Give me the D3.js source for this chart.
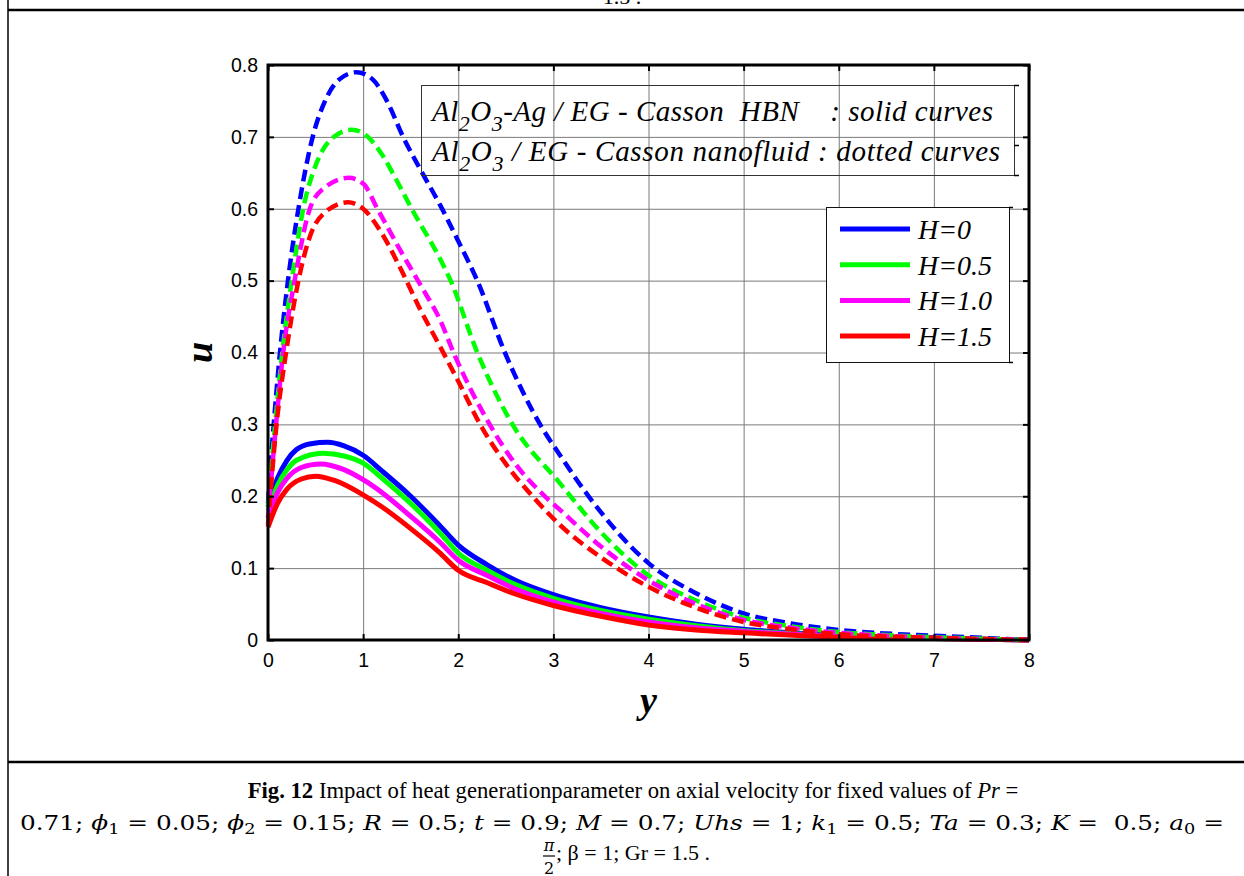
<!DOCTYPE html>
<head>
<meta charset="utf-8">
<style>
  body { margin: 0; background: #fff; }
  #chart { display: block; }
  .grid line { stroke: #7a7a7a; stroke-width: 1px; }
  .grid path { display: none; }
  .tick-axis path { display: none; }
  .tick-axis line { stroke: #000; stroke-width: 2px; }
  .tick-axis text { font-family: "Liberation Sans", Arial, sans-serif; font-size: 19.5px; fill: #000; }
  .curve { fill: none; stroke-linejoin: round; }
  .serif { font-family: "Liberation Serif", "Times New Roman", serif; }
  .math { font-family: "DejaVu Serif", serif; }
</style>
</head>
<body>
<script src="https://cdn.jsdelivr.net/npm/d3@7/dist/d3.min.js"></script>
<svg id="chart"></svg>
<script>
// values: [y, u]
var hbnH0 = [[0,0.185],[0.1,0.225],[0.2,0.25],[0.3,0.265],[0.45,0.273],[0.63,0.275],[0.8,0.27],[1.0,0.257],[1.2,0.235],[1.5,0.2],[1.8,0.16],[2.0,0.132],[2.3,0.105],[2.6,0.083],[3.0,0.063],[3.5,0.045],[4.0,0.032],[4.5,0.022],[5.0,0.015],[5.5,0.01],[6.0,0.006],[6.5,0.004],[7.0,0.003],[7.5,0.001],[8.0,0]];
var hbnH05 = [[0,0.18],[0.1,0.215],[0.2,0.237],[0.3,0.25],[0.58,0.26],[0.8,0.256],[1.0,0.246],[1.2,0.225],[1.5,0.19],[1.8,0.15],[2.0,0.121],[2.3,0.097],[2.6,0.077],[3.0,0.058],[3.5,0.041],[4.0,0.029],[4.5,0.02],[5.0,0.013],[5.5,0.009],[6.0,0.005],[7.0,0.002],[8.0,0]];
var hbnH10 = [[0,0.17],[0.1,0.205],[0.2,0.225],[0.35,0.24],[0.55,0.245],[0.8,0.237],[1.0,0.223],[1.2,0.205],[1.5,0.172],[1.8,0.137],[2.0,0.111],[2.3,0.09],[2.6,0.071],[3.0,0.053],[3.5,0.037],[4.0,0.025],[4.5,0.017],[5.0,0.012],[6.0,0.005],[7.0,0.002],[8.0,0]];
var hbnH15 = [[0,0.157],[0.1,0.19],[0.2,0.21],[0.35,0.224],[0.5,0.228],[0.7,0.222],[1.0,0.202],[1.2,0.185],[1.5,0.155],[1.8,0.122],[2.0,0.097],[2.3,0.08],[2.6,0.064],[3.0,0.048],[3.5,0.033],[4.0,0.021],[4.5,0.014],[5.0,0.01],[6.0,0.004],[7.0,0.002],[8.0,0]];

var nfH0 = [[0,0.19],[0.03,0.25],[0.06,0.30],[0.126,0.40],[0.21,0.50],[0.32,0.60],[0.47,0.70],[0.6,0.75],[0.75,0.78],[0.93,0.79],[1.1,0.78],[1.25,0.75],[1.42,0.70],[1.6,0.655],[1.81,0.605],[2.0,0.555],[2.2,0.50],[2.49,0.40],[2.86,0.30],[3.07,0.257],[3.37,0.20],[4.0,0.107],[4.5,0.065],[5.0,0.037],[5.5,0.023],[6.0,0.014],[6.5,0.009],[7.0,0.006],[7.5,0.003],[8.0,0]];
var nfH05 = [[0,0.185],[0.075,0.30],[0.15,0.40],[0.25,0.50],[0.37,0.60],[0.5,0.66],[0.65,0.695],[0.88,0.71],[1.05,0.70],[1.2,0.675],[1.35,0.64],[1.51,0.60],[1.81,0.53],[1.92,0.50],[2.2,0.40],[2.57,0.30],[3.07,0.218],[3.5,0.15],[4.0,0.09],[4.5,0.055],[5.0,0.031],[5.5,0.019],[6.0,0.011],[6.5,0.007],[7.0,0.004],[8.0,0]];
var nfH10 = [[0,0.17],[0.085,0.30],[0.16,0.40],[0.28,0.50],[0.44,0.60],[0.6,0.63],[0.85,0.643],[1.0,0.635],[1.15,0.60],[1.4,0.54],[1.62,0.49],[1.81,0.445],[1.95,0.40],[2.33,0.30],[2.6,0.245],[2.91,0.20],[3.07,0.181],[3.5,0.13],[4.0,0.083],[4.5,0.05],[5.0,0.028],[5.5,0.017],[6.0,0.01],[6.5,0.006],[7.0,0.003],[8.0,0]];
var nfH15 = [[0,0.16],[0.09,0.30],[0.19,0.40],[0.32,0.50],[0.45,0.565],[0.6,0.595],[0.84,0.609],[1.0,0.60],[1.2,0.565],[1.4,0.515],[1.6,0.46],[1.81,0.408],[2.0,0.36],[2.23,0.30],[2.5,0.245],[2.78,0.20],[3.07,0.16],[3.5,0.115],[4.0,0.074],[4.5,0.045],[5.0,0.025],[5.5,0.015],[6.0,0.008],[7.0,0.003],[8.0,0]];

var hLabels = ["H=0", "H=0.5", "H=1.0", "H=1.5"];
var xTicks = [0, 1, 2, 3, 4, 5, 6, 7, 8];
var yTicks = [0, 0.1, 0.2, 0.3, 0.4, 0.5, 0.6, 0.7, 0.8];

var colors = ["#0000ff", "#00ff00", "#ff00ff", "#ff0000"];
var hbn = [hbnH0, hbnH05, hbnH10, hbnH15];
var nano = [nfH0, nfH05, nfH10, nfH15];

var W = 1244, H = 876;
var svg = d3.select("#chart").attr("width", W).attr("height", H);

// page frame (table cell borders); tail of previous caption peeks in at the top
svg.append("text").attr("class", "serif").attr("x", 622).attr("y", 4)
  .attr("text-anchor", "middle").attr("font-size", 22).text("1.5 .");
svg.append("line").attr("x1", 8).attr("x2", W).attr("y1", 10).attr("y2", 10)
  .attr("stroke", "#000").attr("stroke-width", 2.5);
svg.append("line").attr("x1", 8).attr("x2", 8).attr("y1", 0).attr("y2", H)
  .attr("stroke", "#000").attr("stroke-width", 1.5);
svg.append("line").attr("x1", 8).attr("x2", W).attr("y1", 762).attr("y2", 762)
  .attr("stroke", "#000").attr("stroke-width", 2.5);

var x = d3.scaleLinear().domain([0, 8]).range([268, 1029]);
var y = d3.scaleLinear().domain([0, 0.8]).range([640, 65]);
var pL = x(0), pR = x(8), pT = y(0.8), pB = y(0);

// grid
svg.append("g").attr("class", "grid")
  .attr("transform", "translate(0," + pB + ")")
  .call(d3.axisBottom(x).tickValues(xTicks).tickSize(-(pB - pT)).tickFormat(""));
svg.append("g").attr("class", "grid")
  .attr("transform", "translate(" + pL + ",0)")
  .call(d3.axisLeft(y).tickValues(yTicks).tickSize(-(pR - pL)).tickFormat(""));

// curves
var line = d3.line()
  .curve(d3.curveMonotoneX)
  .x(d => x(d[0]))
  .y(d => y(d[1]));

hbn.forEach((s, i) => {
  svg.append("path").datum(s).attr("class", "curve")
    .attr("stroke", colors[i]).attr("stroke-width", 5).attr("d", line);
});
nano.forEach((s, i) => {
  svg.append("path").datum(s).attr("class", "curve")
    .attr("stroke", colors[i]).attr("stroke-width", 4.5)
    .attr("stroke-dasharray", "12,6").attr("stroke-linejoin", "miter").attr("d", line);
});

// inward ticks + labels
svg.append("g").attr("class", "tick-axis")
  .attr("transform", "translate(0," + pB + ")")
  .call(d3.axisBottom(x).tickValues(xTicks).tickSize(-6).tickPadding(13).tickFormat(d3.format("d")));
svg.append("g").attr("class", "tick-axis")
  .attr("transform", "translate(" + pL + ",0)")
  .call(d3.axisLeft(y).tickValues(yTicks).tickSize(-6).tickPadding(10).tickFormat(d => d === 0 ? "0" : d3.format(".1f")(d)));
svg.append("g").attr("class", "tick-axis")
  .attr("transform", "translate(0," + pT + ")")
  .call(d3.axisTop(x).tickValues(xTicks).tickSize(-6).tickFormat(""));
svg.append("g").attr("class", "tick-axis")
  .attr("transform", "translate(" + pR + ",0)")
  .call(d3.axisRight(y).tickValues(yTicks).tickSize(-6).tickFormat(""));

svg.append("rect").attr("x", pL).attr("y", pT)
  .attr("width", pR - pL).attr("height", pB - pT)
  .attr("fill", "none").attr("stroke", "#000").attr("stroke-width", 3);

// axis titles
svg.append("text").attr("class", "serif")
  .attr("transform", "translate(212," + y(0.4) + ") rotate(-90)")
  .attr("text-anchor", "middle").attr("font-size", 38)
  .attr("font-weight", "bold").attr("font-style", "italic").text("u");
svg.append("text").attr("class", "serif")
  .attr("x", x(4)).attr("y", 713).attr("text-anchor", "middle")
  .attr("font-size", 38).attr("font-weight", "bold").attr("font-style", "italic").text("y");

// annotation box (transparent)
svg.append("rect").attr("x", 421.5).attr("y", 85.5).attr("width", 593).attr("height", 90)
  .attr("fill", "none").attr("stroke", "#333").attr("stroke-width", 1);
[85.5, 145.5, 175.5].forEach(v => {
  svg.append("line").attr("x1", 1014).attr("x2", 1019).attr("y1", v).attr("y2", v)
    .attr("stroke", "#000").attr("stroke-width", 1.5);
});

function chem(yy, rest, len) {
  var tx = svg.append("text").attr("class", "serif").attr("x", 432).attr("y", yy)
    .attr("font-size", 29).attr("font-style", "italic")
    .attr("textLength", len).attr("lengthAdjust", "spacing");
  tx.append("tspan").text("Al");
  tx.append("tspan").attr("font-size", 22).attr("dy", 10).text("2");
  tx.append("tspan").attr("dy", -10).text("O");
  tx.append("tspan").attr("font-size", 22).attr("dy", 10).text("3");
  tx.append("tspan").attr("dy", -10).text(rest);
}
chem(121, "-Ag / EG - Casson\u00a0\u00a0HBN\u00a0\u00a0\u00a0\u00a0: solid curves", 561);
chem(161, " / EG - Casson nanofluid : dotted curves", 568);

// legend (opaque)
var lg = svg.append("g");
lg.append("rect").attr("x", 826.5).attr("y", 207.5).attr("width", 183).attr("height", 155)
  .attr("fill", "#fff").attr("stroke", "#111").attr("stroke-width", 1);
[207.5, 362.5].forEach(v => {
  lg.append("line").attr("x1", 1009).attr("x2", 1013).attr("y1", v).attr("y2", v)
    .attr("stroke", "#000").attr("stroke-width", 1.5);
});
hLabels.forEach((lab, i) => {
  var cy = 229 + i * 35.7;
  lg.append("line").attr("x1", 840).attr("x2", 910).attr("y1", cy).attr("y2", cy)
    .attr("stroke", colors[i]).attr("stroke-width", 5);
  lg.append("text").attr("class", "serif").attr("x", 918).attr("y", cy + 10)
    .attr("font-size", 28).attr("font-style", "italic").text(lab);
});

// caption
var c1 = svg.append("text").attr("class", "serif").attr("x", 633).attr("y", 798)
  .attr("text-anchor", "middle").attr("font-size", 22.7);
c1.append("tspan").attr("font-weight", "bold").text("Fig. 12");
c1.append("tspan").text(" Impact of heat generationparameter on axial velocity for fixed values of ");
c1.append("tspan").attr("font-style", "italic").text("Pr");
c1.append("tspan").text(" =");

var c2 = svg.append("text").attr("class", "math").attr("x", 20).attr("y", 830)
  .attr("font-size", 21).attr("textLength", 1204).attr("lengthAdjust", "spacingAndGlyphs");
var parts = [
  ["0.71; "], ["\u03d5", 1], ["1", 2], [" = 0.05; "], ["\u03d5", 1], ["2", 2], [" = 0.15; "],
  ["R", 1], [" = 0.5; "], ["t", 1], [" = 0.9; "], ["M", 1], [" = 0.7; "], ["Uhs", 1], [" = 1; "],
  ["k", 1], ["1", 2], [" = 0.5; "], ["Ta", 1], [" = 0.3; "], ["K", 1], [" =\u00a0 0.5; "],
  ["a", 1], ["0", 2], [" ="]
];
var sub = false;
parts.forEach(p => {
  var ts = c2.append("tspan").text(p[0]);
  if (p[1] === 1) ts.attr("font-style", "italic");
  if (p[1] === 2) { ts.attr("font-size", 15).attr("dy", 4); sub = true; }
  else if (sub) { ts.attr("dy", -4); sub = false; }
});

svg.append("text").attr("class", "math").attr("x", 549).attr("y", 851)
  .attr("text-anchor", "middle").attr("font-size", 16).attr("font-style", "italic").text("\u03c0");
svg.append("line").attr("x1", 543).attr("x2", 555).attr("y1", 856).attr("y2", 856)
  .attr("stroke", "#000").attr("stroke-width", 1.2);
svg.append("text").attr("class", "math").attr("x", 549).attr("y", 874)
  .attr("text-anchor", "middle").attr("font-size", 16).text("2");
svg.append("text").attr("class", "serif").attr("x", 556).attr("y", 860)
  .attr("font-size", 22).attr("font-style", "normal")
  .text("; \u03b2 = 1; Gr = 1.5 .");
</script>
</body>
